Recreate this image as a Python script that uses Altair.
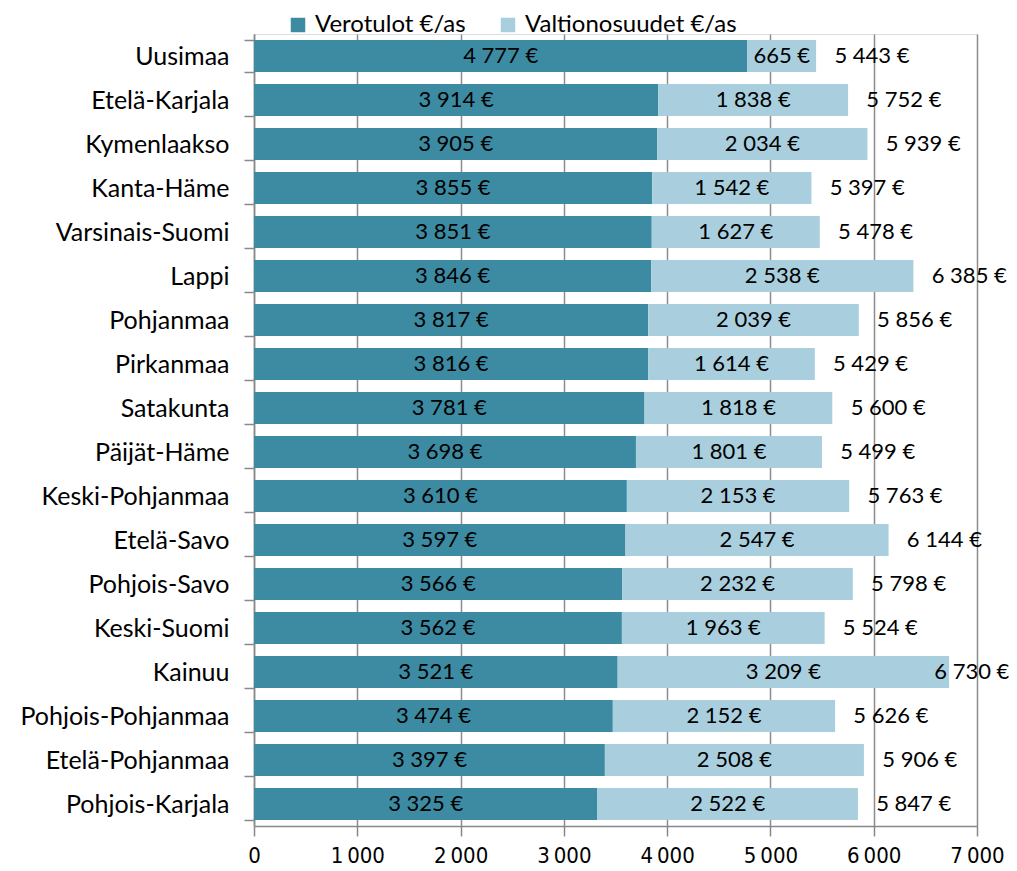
import altair as alt
import pandas as pd

regions = ["Uusimaa", "Etelä-Karjala", "Kymenlaakso", "Kanta-Häme", "Varsinais-Suomi",
           "Lappi", "Pohjanmaa", "Pirkanmaa", "Satakunta", "Päijät-Häme",
           "Keski-Pohjanmaa", "Etelä-Savo", "Pohjois-Savo", "Keski-Suomi", "Kainuu",
           "Pohjois-Pohjanmaa", "Etelä-Pohjanmaa", "Pohjois-Karjala"]
verotulot = [4777, 3914, 3905, 3855, 3851, 3846, 3817, 3816, 3781, 3698,
             3610, 3597, 3566, 3562, 3521, 3474, 3397, 3325]
valtionosuudet = [665, 1838, 2034, 1542, 1627, 2538, 2039, 1614, 1818, 1801,
                  2153, 2547, 2232, 1963, 3209, 2152, 2508, 2522]
totals = [5443, 5752, 5939, 5397, 5478, 6385, 5856, 5429, 5600, 5499,
          5763, 6144, 5798, 5524, 6730, 5626, 5906, 5847]
series_names = ["Verotulot €/as", "Valtionosuudet €/as"]
series_colors = ["#3C8BA2", "#A9CFDE"]
x_ticks = [0, 1000, 2000, 3000, 4000, 5000, 6000, 7000]

rows = []
for r, v, s in zip(regions, verotulot, valtionosuudet):
    rows.append(dict(region=r, series=series_names[0], value=v, x0=0, x1=v))
    rows.append(dict(region=r, series=series_names[1], value=s, x0=v, x1=v + s))
df = pd.DataFrame(rows)
tot = pd.DataFrame(dict(region=regions, total=totals))

FONT = "Lato"
FS = 22
LFS = 25
GFS = 24
NARROW = "Liberation Sans Narrow, DejaVu Sans Condensed, Lato"

y_enc = alt.Y("region:N", sort=regions, title=None,
              scale=alt.Scale(paddingInner=0.27, paddingOuter=0.135),
              axis=alt.Axis(labelFont=FONT, labelFontSize=LFS, labelColor="black",
                            tickBand="extent", tickSize=10, tickColor="#888",
                            domainColor="#888", domainWidth=1.5, tickWidth=1.5,
                            labelPadding=15, grid=False, labelLimit=400))
x_scale = alt.Scale(domain=[0, 7000], nice=False)
x_axis = alt.Axis(values=x_ticks, title=None, grid=True, gridColor="#8c8c8c", gridWidth=1.5,
                  labelFont=NARROW, labelFontSize=22, labelColor="black",
                  tickSize=10, tickColor="#888", tickWidth=1.5, labelFlush=False,
                  domainColor="#888", domainWidth=1.5, labelPadding=9,
                  labelExpr="replace(format(datum.value, ','), ',', '\u2009')")

bars = alt.Chart(df).mark_bar(opacity=1).encode(
    y=y_enc,
    x=alt.X("x0:Q", scale=x_scale, axis=x_axis),
    x2="x1:Q",
    color=alt.Color("series:N", sort=series_names,
                    scale=alt.Scale(domain=series_names, range=series_colors),
                    legend=alt.Legend(title=None, orient="none", legendX=32, legendY=-21,
                                      direction="horizontal", symbolType="square",
                                      symbolSize=210, symbolStrokeWidth=0, padding=0,
                                      labelFont=FONT, labelFontSize=GFS, labelColor="black",
                                      columnPadding=30, labelOffset=5, labelLimit=400)),
)

inner = alt.Chart(df).transform_calculate(
    mid="(datum.x0 + datum.x1) / 2",
    lab="replace(format(datum.value, ','), ',', ' ') + ' €'"
).mark_text(font=FONT, fontSize=FS, color="black", align="center", baseline="middle").encode(
    y=alt.Y("region:N", sort=regions),
    x=alt.X("mid:Q", scale=x_scale),
    text="lab:N",
)

outer = alt.Chart(tot).transform_calculate(
    pos="min(datum.total + 540, 6950)",
    lab="replace(format(datum.total, ','), ',', ' ') + ' €'"
).mark_text(font=FONT, fontSize=FS, color="black", align="center", baseline="middle").encode(
    y=alt.Y("region:N", sort=regions),
    x=alt.X("pos:Q", scale=x_scale),
    text="lab:N",
)

chart = alt.layer(bars, inner, outer).properties(
    width=723, height=792,
    autosize=alt.AutoSizeParams(type="none"),
    padding={"left": 246, "top": 26, "right": 32, "bottom": 42},
).configure_view(stroke=None).configure(background="white").configure_legend(
    labelFontSize=GFS, labelFont=FONT
)

chart.save("out.html", embed_options={"renderer": "svg", "actions": False})
